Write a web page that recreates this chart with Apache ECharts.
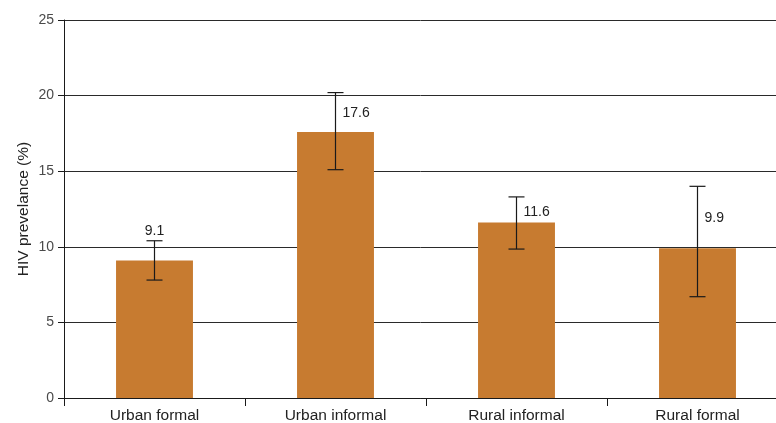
<!DOCTYPE html>
<html>
<head>
<meta charset="utf-8">
<script src="https://cdn.jsdelivr.net/npm/echarts@6/dist/echarts.min.js"></script>
<style>
  html, body { margin: 0; padding: 0; background: #fff; }
  #chart { width: 776px; height: 423px; }
</style>
</head>
<body>
<div id="chart"></div>
<script>
// HIV prevalence by settlement type, with confidence intervals
const categories = ['Urban formal', 'Urban informal', 'Rural informal', 'Rural formal'];
const prevalence = [9.1, 17.6, 11.6, 9.9];
const ciLow = [7.8, 15.1, 9.85, 6.7];
const ciHigh = [10.4, 20.2, 13.3, 14.0];
const yTicks = [0, 5, 10, 15, 20, 25];

// Value label placement per bar: 'top' sits above the upper whisker,
// 'side' sits to the right of the whisker, shifted from the bar top.
const labelPlacement = [
  { mode: 'top', dy: -10 },
  { mode: 'side', dy: -19 },
  { mode: 'side', dy: -10 },
  { mode: 'side', dy: -30 }
];

const barColor = '#C77B30';
const inkColor = '#1a1a1a';
const font = 'Liberation Sans, Arial, Helvetica, sans-serif';

const chart = echarts.init(document.getElementById('chart'), null, { renderer: 'canvas' });

const errorData = categories.map((c, i) => [i, ciLow[i], ciHigh[i], prevalence[i]]);

chart.setOption({
  animation: false,
  grid: { left: 64, top: 20, bottom: 25, right: -12, containLabel: false, outerBoundsMode: 'none' },
  xAxis: {
    type: 'category',
    data: categories,
    axisLine: { show: true, lineStyle: { color: inkColor, width: 1 } },
    axisTick: { show: true, alignWithLabel: false, length: 8, lineStyle: { color: inkColor } },
    axisLabel: { color: '#222', fontSize: 15.5, fontFamily: font, margin: 10 },
    splitLine: { show: false }
  },
  yAxis: {
    type: 'value',
    min: yTicks[0],
    max: yTicks[yTicks.length - 1],
    interval: 5,
    name: 'HIV prevelance (%)',
    nameLocation: 'middle',
    nameGap: 32,
    nameMoveOverlap: false,
    nameRotate: 90,
    nameTextStyle: { color: '#222', fontSize: 15.5, fontFamily: font },
    axisLine: { show: true, lineStyle: { color: inkColor, width: 1 } },
    axisTick: { show: true, inside: false, length: 6, lineStyle: { color: inkColor } },
    axisLabel: { color: '#4a4a4a', fontSize: 14, fontFamily: font, margin: 10 },
    splitLine: { show: true, lineStyle: { color: '#2a2a2a', width: 1 } }
  },
  series: [
    {
      type: 'bar',
      data: prevalence,
      barWidth: '42.5%',
      itemStyle: { color: barColor },
      z: 2
    },
    {
      type: 'custom',
      data: errorData,
      z: 5,
      renderItem: function (params, api) {
        const idx = api.value(0);
        const lowPt = api.coord([idx, api.value(1)]);
        const highPt = api.coord([idx, api.value(2)]);
        const valPt = api.coord([idx, api.value(3)]);
        const x = lowPt[0];
        const cap = 8;
        const style = { stroke: inkColor, lineWidth: 1.2 };
        const place = labelPlacement[params.dataIndex];
        let text;
        if (place.mode === 'top') {
          text = {
            type: 'text',
            style: {
              text: api.value(3).toFixed(1),
              x: x, y: highPt[1] + place.dy,
              align: 'center', verticalAlign: 'middle',
              fill: '#222', font: '14px ' + font
            }
          };
        } else {
          text = {
            type: 'text',
            style: {
              text: api.value(3).toFixed(1),
              x: x + 7, y: valPt[1] + place.dy,
              align: 'left', verticalAlign: 'middle',
              fill: '#222', font: '14px ' + font
            }
          };
        }
        return {
          type: 'group',
          children: [
            { type: 'line', shape: { x1: x, y1: lowPt[1], x2: x, y2: highPt[1] }, style: style },
            { type: 'line', shape: { x1: x - cap, y1: highPt[1], x2: x + cap, y2: highPt[1] }, style: style },
            { type: 'line', shape: { x1: x - cap, y1: lowPt[1], x2: x + cap, y2: lowPt[1] }, style: style },
            text
          ]
        };
      }
    }
  ]
});
</script>
</body>
</html>
